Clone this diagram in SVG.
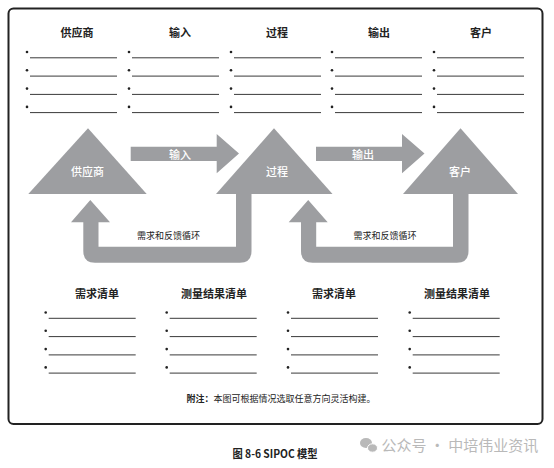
<svg xmlns="http://www.w3.org/2000/svg" width="554" height="468" viewBox="0 0 554 468">
  <style>
    text { font-family: "Noto Sans CJK SC", "Liberation Sans", sans-serif; }
    .hd { font-size: 11px; font-weight: 700; fill: #222; text-anchor: middle; }
    .wl { font-size: 11px; font-weight: 500; fill: #fff; text-anchor: middle; }
    .lp { font-size: 9px; fill: #222; text-anchor: middle; }
    .shape { fill: #9d9ea1; }
    .ln { stroke: #3a3a3a; stroke-width: 1; }
    .dot { fill: #222; }
  </style>
  <defs>
    <g id="list4">
      <circle class="dot" cx="0" cy="0" r="1.3"/>
      <line class="ln" x1="3" y1="5.8" x2="90" y2="5.8"/>
      <circle class="dot" cx="0" cy="18.3" r="1.3"/>
      <line class="ln" x1="3" y1="24.1" x2="90" y2="24.1"/>
      <circle class="dot" cx="0" cy="36.6" r="1.3"/>
      <line class="ln" x1="3" y1="42.4" x2="90" y2="42.4"/>
      <circle class="dot" cx="0" cy="54.9" r="1.3"/>
      <line class="ln" x1="3" y1="60.6" x2="90" y2="60.6"/>
    </g>
  </defs>
  <rect x="0" y="0" width="554" height="468" fill="#fff"/>
  <rect id="frame" x="8.5" y="8.5" width="534" height="415.5" rx="5" fill="#fff" stroke="#222" stroke-width="2"/>

  <g id="top-lists">
    <g id="list-supplier"><text class="hd" x="77" y="37">供应商</text><use href="#list4" x="27" y="52"/></g>
    <g id="list-input"><text class="hd" x="180" y="37">输入</text><use href="#list4" x="129" y="52"/></g>
    <g id="list-process"><text class="hd" x="277" y="37">过程</text><use href="#list4" x="231" y="52"/></g>
    <g id="list-output"><text class="hd" x="379" y="37">输出</text><use href="#list4" x="332" y="52"/></g>
    <g id="list-customer"><text class="hd" x="481" y="37">客户</text><use href="#list4" x="434" y="52"/></g>
  </g>

  <g id="connectors">
    <g id="arrow-input">
      <path class="shape" d="M130.7,146.7 L216.7,146.7 L216.7,134 L239,153.5 L216.7,173.3 L216.7,161 L130.7,161 Z"/>
      <text class="wl" x="180" y="159">输入</text>
    </g>
    <g id="arrow-output">
      <path class="shape" d="M316,146.7 L402,146.7 L402,134 L424.5,153.5 L402,173.3 L402,161 L316,161 Z"/>
      <text class="wl" x="363" y="159">输出</text>
    </g>
    <g id="loop-1">
      <path class="shape" d="M236,190 L251.5,190 L251.5,251 Q251.5,262.7 239.8,262.7 L95,262.7 Q83.3,262.7 83.3,251 L83.3,222.3 L71,222.3 L90.3,200 L110,222.3 L98.5,222.3 L98.5,246.7 L236,246.7 Z"/>
      <text class="lp" x="168.5" y="238.5">需求和反馈循环</text>
    </g>
    <g id="loop-2">
      <path class="shape" d="M453,190 L468.5,190 L468.5,251 Q468.5,262.7 456.8,262.7 L312.7,262.7 Q301,262.7 301,251 L301,222.3 L288.7,222.3 L308.2,200 L327.7,222.3 L316.2,222.3 L316.2,246.7 L453,246.7 Z"/>
      <text class="lp" x="385" y="238.5">需求和反馈循环</text>
    </g>
  </g>

  <g id="node-supplier">
    <polygon class="shape" points="88,128.3 146.7,194 28.3,194"/>
    <text class="wl" x="87.5" y="176">供应商</text>
  </g>
  <g id="node-process">
    <polygon class="shape" points="274,128.3 332.5,194 216,194"/>
    <text class="wl" x="277" y="176">过程</text>
  </g>
  <g id="node-customer">
    <polygon class="shape" points="460.5,128.3 518,194 403,194"/>
    <text class="wl" x="460" y="176">客户</text>
  </g>

  <g id="bottom-lists">
    <g id="list-req-1"><text class="hd" x="97" y="298">需求清单</text><use href="#list4" x="45.7" y="312.5"/></g>
    <g id="list-meas-1"><text class="hd" x="214" y="298">测量结果清单</text><use href="#list4" x="166.7" y="312.5"/></g>
    <g id="list-req-2"><text class="hd" x="334" y="298">需求清单</text><use href="#list4" x="288" y="312.5"/></g>
    <g id="list-meas-2"><text class="hd" x="457" y="298">测量结果清单</text><use href="#list4" x="409.7" y="312.5"/></g>
  </g>

  <text x="186.5" y="401.5" font-size="9" fill="#222"><tspan font-weight="700">附注：</tspan>本图可根据情况选取任意方向灵活构建。</text>

  <text x="232.5" y="458" font-size="11" font-weight="700" fill="#222" textLength="85" lengthAdjust="spacingAndGlyphs">图 8-6 SIPOC 模型</text>

  <g id="watermark" fill="#b9b9b9">
    <ellipse cx="366" cy="443" rx="6" ry="5"/>
    <ellipse cx="372.5" cy="448" rx="5" ry="4.2" stroke="#fff" stroke-width="1"/>
    <text x="381.5" y="450.5" font-size="15" fill="#b9b9b9">公众号 · 中培伟业资讯</text>
  </g>
</svg>
